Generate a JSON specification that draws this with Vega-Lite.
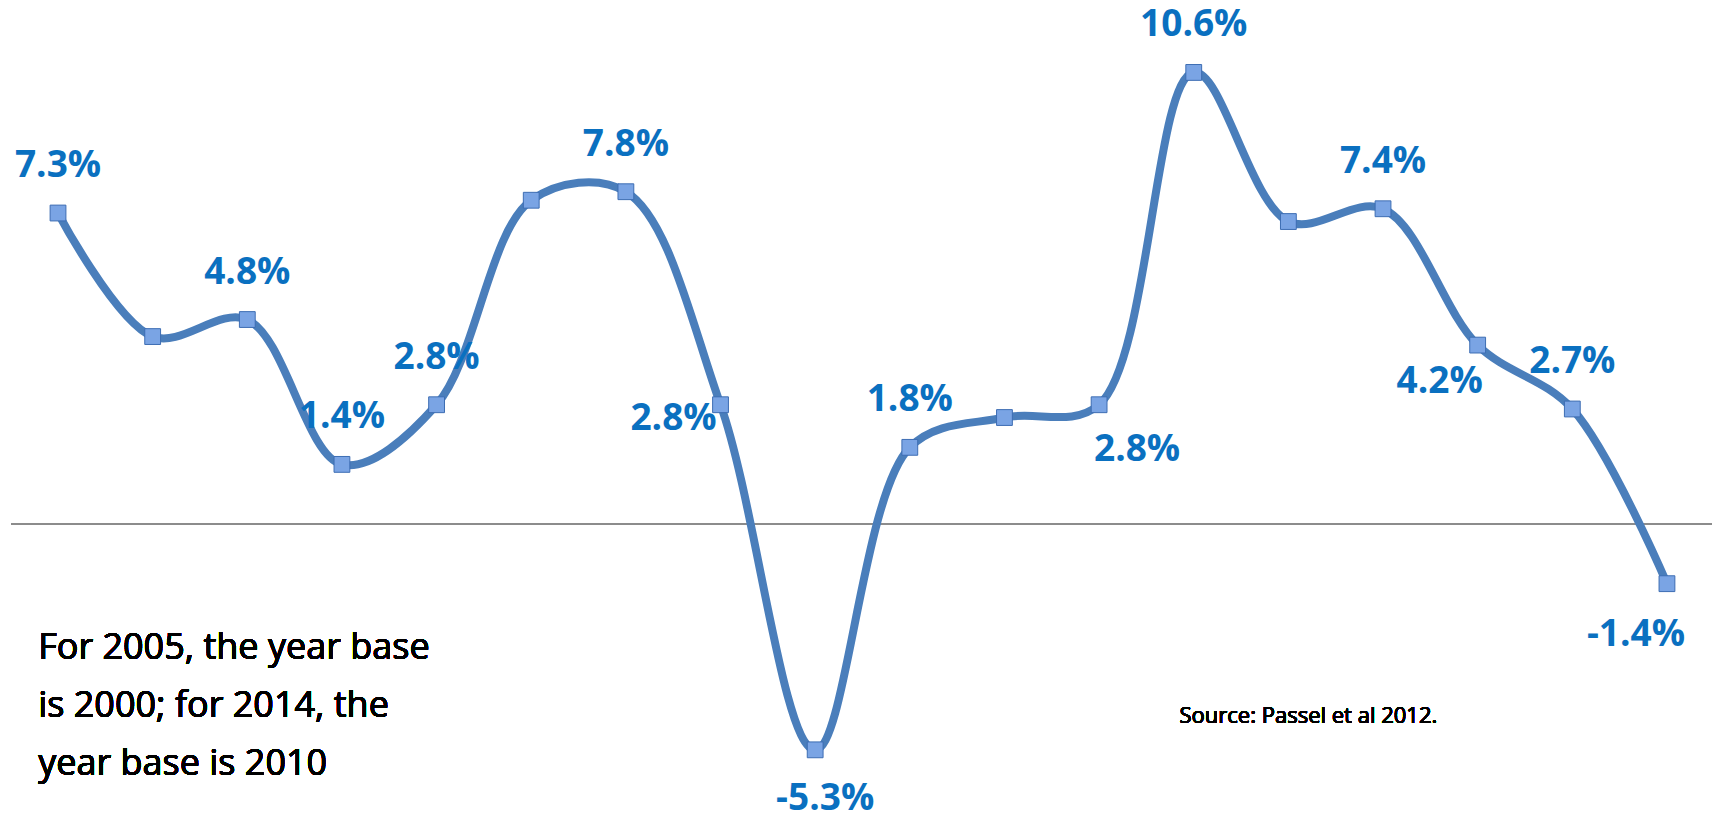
{
  "$schema": "https://vega.github.io/schema/vega-lite/v6.json",
  "width": 1721,
  "height": 818,
  "autosize": {"type": "fit", "contains": "padding"},
  "padding": 0,
  "config": {"view": {"stroke": null}},
  "data": {
    "values": [
      {"i": 1, "v": 7.3, "lab": "7.3%"},
      {"i": 2, "v": 4.4, "lab": ""},
      {"i": 3, "v": 4.8, "lab": "4.8%"},
      {"i": 4, "v": 1.4, "lab": "1.4%"},
      {"i": 5, "v": 2.8, "lab": "2.8%"},
      {"i": 6, "v": 7.6, "lab": ""},
      {"i": 7, "v": 7.8, "lab": "7.8%"},
      {"i": 8, "v": 2.8, "lab": "2.8%"},
      {"i": 9, "v": -5.3, "lab": "-5.3%"},
      {"i": 10, "v": 1.8, "lab": "1.8%"},
      {"i": 11, "v": 2.5, "lab": ""},
      {"i": 12, "v": 2.8, "lab": "2.8%"},
      {"i": 13, "v": 10.6, "lab": "10.6%"},
      {"i": 14, "v": 7.1, "lab": ""},
      {"i": 15, "v": 7.4, "lab": "7.4%"},
      {"i": 16, "v": 4.2, "lab": "4.2%"},
      {"i": 17, "v": 2.7, "lab": "2.7%"},
      {"i": 18, "v": -1.4, "lab": "-1.4%"}
    ]
  },
  "encoding": {
    "x": {"field": "i", "type": "quantitative", "scale": {"domain": [0.387, 18.571], "nice": false, "zero": false}, "axis": null},
    "y": {"field": "v", "type": "quantitative", "scale": {"domain": [-6.9, 12.3], "nice": false, "zero": false}, "axis": null}
  },
  "layer": [
    {
      "mark": {"type": "rule", "color": "#8c8c8c", "strokeWidth": 1.5},
      "encoding": {"x": {"datum": 0.503}, "x2": {"datum": 18.47}, "y": {"datum": 0}}
    },
    {"mark": {"type": "line", "interpolate": "catmull-rom", "color": "#4a7ebb", "strokeWidth": 8}},
    {"mark": {"type": "square", "size": 250, "filled": true, "color": "#7aa4e4", "stroke": "#3d6db3", "strokeWidth": 1, "opacity": 1}},
    {
      "transform": [{"filter": "indexof([1,3,4,5,7,10,13,15,17], datum.i) >= 0"}],
      "mark": {"type": "text", "dy": -47, "font": "Open Sans", "fontWeight": "bold", "fontSize": 37, "color": "#0a70c0"},
      "encoding": {"text": {"field": "lab"}}
    },
    {
      "transform": [{"filter": "datum.i == 8"}],
      "mark": {"type": "text", "dx": -47, "dy": 14, "font": "Open Sans", "fontWeight": "bold", "fontSize": 37, "color": "#0a70c0"},
      "encoding": {"text": {"field": "lab"}}
    },
    {
      "transform": [{"filter": "datum.i == 9"}],
      "mark": {"type": "text", "dx": 10, "dy": 49, "font": "Open Sans", "fontWeight": "bold", "fontSize": 37, "color": "#0a70c0"},
      "encoding": {"text": {"field": "lab"}}
    },
    {
      "transform": [{"filter": "datum.i == 12"}],
      "mark": {"type": "text", "dx": 38, "dy": 45, "font": "Open Sans", "fontWeight": "bold", "fontSize": 37, "color": "#0a70c0"},
      "encoding": {"text": {"field": "lab"}}
    },
    {
      "transform": [{"filter": "datum.i == 16"}],
      "mark": {"type": "text", "dx": -38, "dy": 37, "font": "Open Sans", "fontWeight": "bold", "fontSize": 37, "color": "#0a70c0"},
      "encoding": {"text": {"field": "lab"}}
    },
    {
      "transform": [{"filter": "datum.i == 18"}],
      "mark": {"type": "text", "dx": -31, "dy": 51, "font": "Open Sans", "fontWeight": "bold", "fontSize": 37, "color": "#0a70c0"},
      "encoding": {"text": {"field": "lab"}}
    },
    {
      "mark": {"type": "text", "align": "left", "baseline": "middle", "font": "Open Sans", "fontSize": 36, "lineHeight": 58, "color": "#000000", "text": ["For 2005, the year base", "is 2000; for 2014, the", "year base is 2010"]},
      "encoding": {"x": {"datum": 0.79}, "y": {"datum": -2.9}}
    },
    {
      "mark": {"type": "text", "align": "left", "baseline": "middle", "font": "Open Sans", "fontSize": 22, "fontWeight": "normal", "color": "#000000", "text": "Source: Passel et al 2012."},
      "encoding": {"x": {"datum": 12.85}, "y": {"datum": -4.5}}
    }
  ]
}
